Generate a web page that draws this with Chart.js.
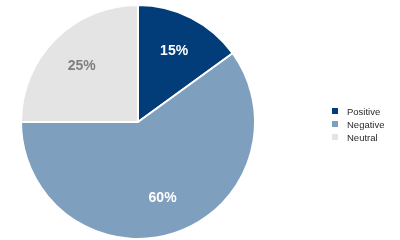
<!DOCTYPE html>
<html>
<head>
<meta charset="utf-8">
<script src="https://cdn.jsdelivr.net/npm/chart.js@4"></script>
<style>
  html, body { margin: 0; padding: 0; background: #fff; }
  #wrap { width: 400px; height: 240px; position: relative; }
</style>
</head>
<body>
<div id="wrap"><canvas id="pieChart"></canvas></div>
<script>
// chart data
const categories = ['Positive', 'Negative', 'Neutral'];
const shares = [15, 60, 25];
const sliceColors = ['#023d7a', '#7f9fbf', '#e4e4e4'];
const labelColors = ['#ffffff', '#ffffff', '#7f7f7f'];

// slice labels + legend on the right
const pieExtras = {
  id: 'pieExtras',
  afterDatasetsDraw(chart) {
    const ctx = chart.ctx;
    const meta = chart.getDatasetMeta(0);
    ctx.save();
    ctx.font = 'bold 14px "Liberation Sans", Arial, sans-serif';
    ctx.textAlign = 'center';
    ctx.textBaseline = 'middle';
    meta.data.forEach((arc, i) => {
      const mid = (arc.startAngle + arc.endAngle) / 2;
      const r = arc.outerRadius * 0.68;
      ctx.fillStyle = labelColors[i];
      ctx.fillText(shares[i] + '%', arc.x + Math.cos(mid) * r, arc.y + Math.sin(mid) * r);
    });

    // legend
    ctx.font = '9.5px "Liberation Sans", Arial, sans-serif';
    ctx.textAlign = 'left';
    categories.forEach((name, i) => {
      const y = 111 + i * 13;
      ctx.fillStyle = sliceColors[i];
      ctx.fillRect(332, y - 3, 6, 6);
      ctx.fillStyle = '#2b2b2b';
      ctx.fillText(name, 347, y + 1);
    });
    ctx.restore();
  }
};

document.addEventListener('DOMContentLoaded', function() {
  const ctx = document.getElementById('pieChart');
  new Chart(ctx, {
    type: 'pie',
    data: {
      labels: categories,
      datasets: [{
        data: shares,
        backgroundColor: sliceColors,
        borderColor: '#ffffff',
        borderWidth: 2
      }]
    },
    options: {
      responsive: true,
      maintainAspectRatio: false,
      animation: false,
      layout: { padding: { left: 20, right: 144, top: 4, bottom: 0 } },
      plugins: {
        legend: { display: false },
        tooltip: { enabled: false }
      }
    },
    plugins: [pieExtras]
  });
});
</script>
</body>
</html>
